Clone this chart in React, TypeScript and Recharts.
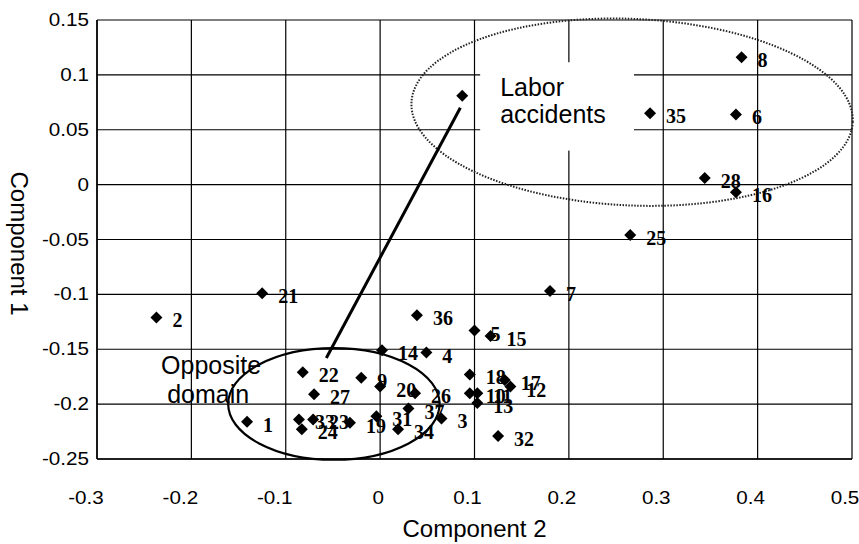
import {
  ScatterChart,
  Scatter,
  XAxis,
  YAxis,
  CartesianGrid,
  ReferenceArea,
  ReferenceLine,
} from 'recharts';

// case numbers and their scores on the two components
const caseIds = [
  '1', '2', '3', '4', '5', '6', '7', '8', '9', '10', '11', '12', '13', '14', '15', '16', '17', '18',
  '19', '20', '21', '22', '23', '24', '25', '26', '27', '28', '31', '32', '33', '34', '35', '36', '37',
];
const component2 = [
  -0.141, -0.237, 0.065, 0.049, 0.1, 0.377, 0.18, 0.383, -0.02, 0.095, 0.103, 0.138, 0.103, 0.002, 0.117,
  0.377, 0.132, 0.095, -0.032, 0.0, -0.125, -0.082, -0.071, -0.083, 0.265, 0.037, -0.07, 0.344, -0.004,
  0.125, -0.086, 0.019, 0.286, 0.039, 0.03,
];
const component1 = [
  -0.216, -0.121, -0.213, -0.153, -0.133, 0.064, -0.097, 0.116, -0.176, -0.19, -0.19, -0.184, -0.199,
  -0.151, -0.138, -0.007, -0.178, -0.173, -0.217, -0.184, -0.099, -0.171, -0.214, -0.223, -0.046, -0.19,
  -0.191, 0.006, -0.211, -0.229, -0.214, -0.223, 0.065, -0.119, -0.204,
];

// unlabeled point at the top of the connector line
const linkPoint = { x: 0.087, y: 0.081 };
const linkLine = [
  { x: 0.085, y: 0.07 },
  { x: -0.057, y: -0.158 },
];

const xTicks = [-0.3, -0.2, -0.1, 0, 0.1, 0.2, 0.3, 0.4, 0.5];
const yTicks = [-0.25, -0.2, -0.15, -0.1, -0.05, 0, 0.05, 0.1, 0.15];

const points = caseIds.map((id, i) => ({ id, x: component2[i], y: component1[i] }));

const SANS = '"Liberation Sans", Arial, sans-serif';
const SERIF = '"Liberation Serif", "Times New Roman", serif';

function Diamond(props: any) {
  const { cx, cy, payload } = props;
  const r = 6;
  return (
    <g>
      <polygon
        points={`${cx},${cy - r} ${cx + r},${cy} ${cx},${cy + r} ${cx - r},${cy}`}
        fill="#000"
      />
      {payload && payload.id ? (
        <text
          x={cx + 16}
          y={cy + 10}
          fontFamily={SERIF}
          fontWeight="bold"
          fontSize={20}
          fill="#000"
        >
          {payload.id}
        </text>
      ) : null}
    </g>
  );
}

// tick text is a little wider than plain Arial
function XTick(props: any) {
  const { x, y, payload } = props;
  const v = payload.value;
  const dx = v < 0 ? -11 : v === 0 ? -2 : -7;
  return (
    <text
      transform={`translate(${x + dx} ${y + 37}) scale(1.18 1)`}
      textAnchor="middle"
      fontFamily={SANS}
      fontSize={17.5}
      fill="#000"
    >
      {String(v)}
    </text>
  );
}

function YTick(props: any) {
  const { x, y, payload } = props;
  return (
    <text
      transform={`translate(${x} ${y + 6}) scale(1.18 1)`}
      textAnchor="end"
      fontFamily={SANS}
      fontSize={17.5}
      fill="#000"
    >
      {String(payload.value)}
    </text>
  );
}

function LaborBox(props: any) {
  const { x, y, width, height } = props;
  return (
    <g>
      <rect x={x} y={y} width={width} height={height} fill="#fff" />
      <text x={x + 20} y={y + 34} fontFamily={SANS} fontSize={25} fill="#000">
        Labor
      </text>
      <text x={x + 20} y={y + 61} fontFamily={SANS} fontSize={25} fill="#000">
        accidents
      </text>
    </g>
  );
}

function DottedEllipse(props: any) {
  const { x, y, width, height } = props;
  const cx = x + width / 2;
  const cy = y + height / 2;
  return (
    <ellipse
      cx={cx}
      cy={cy}
      rx={width / 2}
      ry={height / 2}
      transform={`rotate(2.5 ${cx} ${cy})`}
      fill="none"
      stroke="#222"
      strokeWidth={2}
      strokeDasharray="1.5 1.5"
    />
  );
}

function OppositeEllipse(props: any) {
  const { x, y, width, height } = props;
  return (
    <g>
      <ellipse
        cx={x + width / 2}
        cy={y + height / 2}
        rx={width / 2}
        ry={height / 2}
        fill="none"
        stroke="#000"
        strokeWidth={2.2}
      />
      <text x={x + 33} y={y + 26} textAnchor="end" fontFamily={SANS} fontSize={25} fill="#000">
        Opposite
      </text>
      <text x={x + 21} y={y + 55} textAnchor="end" fontFamily={SANS} fontSize={25} fill="#000">
        domain
      </text>
    </g>
  );
}

export default function App() {
  return (
    <div style={{ position: 'absolute', left: 0, top: 0, background: '#fff' }}>
      <ScatterChart
        width={859}
        height={544}
        margin={{ top: 20, right: 7, bottom: 0, left: 0 }}
      >
        <CartesianGrid stroke="#000" strokeWidth={1.2} />
        <XAxis
          type="number"
          dataKey="x"
          domain={[-0.3, 0.5]}
          ticks={xTicks}
          interval={0}
          height={85}
          tick={<XTick />}
          tickLine={false}
          axisLine={{ stroke: '#000', strokeWidth: 1.5 }}
          label={{
            content: (p: any) => (
              <text
                x={p.viewBox.x + p.viewBox.width / 2}
                y={537}
                textAnchor="middle"
                fontFamily={SANS}
                fontSize={24}
                fill="#000"
              >
                Component 2
              </text>
            ),
          }}
        />
        <YAxis
          type="number"
          dataKey="y"
          domain={[-0.25, 0.15]}
          ticks={yTicks}
          interval={0}
          width={97}
          tick={<YTick />}
          tickLine={false}
          axisLine={{ stroke: '#000', strokeWidth: 1.5 }}
          label={{
            content: (p: any) => {
              const cy = p.viewBox.y + p.viewBox.height / 2 + 4;
              return (
                <text
                  x={19}
                  y={cy}
                  transform={`rotate(90 19 ${cy})`}
                  textAnchor="middle"
                  dominantBaseline="central"
                  fontFamily={SANS}
                  fontSize={24}
                  fill="#000"
                >
                  Component 1
                </text>
              );
            },
          }}
        />
        <ReferenceArea
          x1={0.106}
          x2={0.269}
          y1={0.031}
          y2={0.1115}
          ifOverflow="visible"
          shape={<LaborBox />}
        />
        <ReferenceArea
          x1={0.033}
          x2={0.501}
          y1={-0.019}
          y2={0.151}
          ifOverflow="visible"
          shape={<DottedEllipse />}
        />
        <ReferenceArea
          x1={-0.161}
          x2={0.063}
          y1={-0.2507}
          y2={-0.149}
          ifOverflow="visible"
          shape={<OppositeEllipse />}
        />
        <ReferenceLine
          segment={linkLine}
          stroke="#000"
          strokeWidth={3}
          ifOverflow="visible"
        />
        <Scatter data={[linkPoint]} shape={<Diamond />} isAnimationActive={false} />
        <Scatter data={points} shape={<Diamond />} isAnimationActive={false} />
      </ScatterChart>
    </div>
  );
}
